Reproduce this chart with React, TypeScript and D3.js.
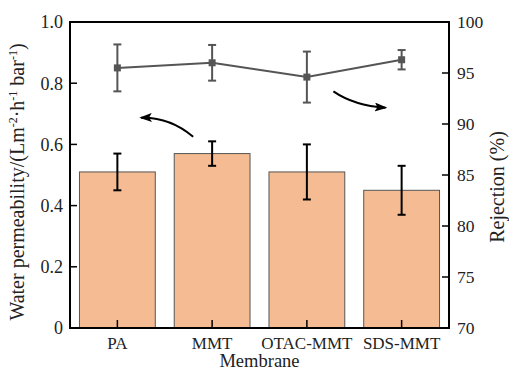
import React from "react";
import * as d3 from "d3";

const membranes = ["PA", "MMT", "OTAC-MMT", "SDS-MMT"];
const permeability = [0.51, 0.57, 0.51, 0.45];
const permeabilityErr = [0.06, 0.04, 0.09, 0.08];
const rejection = [95.5, 96.0, 94.6, 96.3];
const rejectionErr = [2.3, 1.75, 2.5, 0.95];
const leftTicks = [0, 0.2, 0.4, 0.6, 0.8, 1.0];
const rightTicks = [70, 75, 80, 85, 90, 95, 100];

const W = 509;
const H = 371;
const margin = { top: 22, right: 60, bottom: 43, left: 70 };
const font = "Liberation Serif, Tinos, Times New Roman, DejaVu Serif, serif";

export default function App() {
  const iw = W - margin.left - margin.right;
  const ih = H - margin.top - margin.bottom;

  const x = d3.scaleBand().domain(membranes).range([0, iw]).paddingInner(0.2).paddingOuter(0.1);
  const yL = d3.scaleLinear().domain([0, 1]).range([ih, 0]);
  const yR = d3.scaleLinear().domain([70, 100]).range([ih, 0]);
  const cx = (i: number) => (x(membranes[i]) ?? 0) + x.bandwidth() / 2;

  const line = d3
    .line<number>()
    .x((_, i) => cx(i))
    .y((d) => yR(d));

  // curved arrows, anchored to the data scales
  const step = x.step();
  const arrowL = d3.path();
  arrowL.moveTo(cx(1) - 0.2 * step, yL(0.625));
  arrowL.quadraticCurveTo(cx(1) - 0.45 * step, yL(0.69), cx(0) + 0.25 * step, yL(0.687));
  const arrowR = d3.path();
  arrowR.moveTo(cx(2) + 0.28 * step, yR(93.2));
  arrowR.quadraticCurveTo(cx(2) + 0.5 * step, yR(91.8), cx(3) - 0.17 * step, yR(91.6));

  const sup = (s: string) => (
    <tspan dy={-7} fontSize={12}>
      {s}
    </tspan>
  );

  return (
    <svg
      width={W}
      height={H}
      style={{ position: "absolute", left: 0, top: 0, background: "#fff", fontFamily: font }}
    >
      <defs>
        <marker id="head" viewBox="0 0 14 10" refX="12" refY="5" markerWidth="7" markerHeight="4.5" orient="auto">
          <path d="M0,0 L14,5 L0,10 L3,5 Z" fill="#000" />
        </marker>
      </defs>
      <g transform={`translate(${margin.left},${margin.top})`}>
        {membranes.map((m, i) => (
          <rect
            key={m}
            x={x(m)}
            y={yL(permeability[i])}
            width={x.bandwidth()}
            height={ih - yL(permeability[i])}
            fill="#F5BC93"
            stroke="#555"
            strokeWidth={1}
          />
        ))}
        {membranes.map((m, i) => {
          const c = cx(i);
          const t = yL(permeability[i] + permeabilityErr[i]);
          const b = yL(permeability[i] - permeabilityErr[i]);
          return (
            <g key={m} stroke="#000" strokeWidth={2}>
              <line x1={c} x2={c} y1={t} y2={b} />
              <line x1={c - 4} x2={c + 4} y1={t} y2={t} />
              <line x1={c - 4} x2={c + 4} y1={b} y2={b} />
            </g>
          );
        })}
        <path d={line(rejection) ?? ""} fill="none" stroke="#555" strokeWidth={2} />
        {membranes.map((m, i) => {
          const c = cx(i);
          const t = yR(rejection[i] + rejectionErr[i]);
          const b = yR(rejection[i] - rejectionErr[i]);
          return (
            <g key={m} stroke="#555" strokeWidth={2}>
              <line x1={c} x2={c} y1={t} y2={b} />
              <line x1={c - 4} x2={c + 4} y1={t} y2={t} />
              <line x1={c - 4} x2={c + 4} y1={b} y2={b} />
              <rect x={c - 3.5} y={yR(rejection[i]) - 3.5} width={7} height={7} fill="#555" stroke="none" />
            </g>
          );
        })}
        <path d={arrowL.toString()} fill="none" stroke="#000" strokeWidth={2} markerEnd="url(#head)" />
        <path d={arrowR.toString()} fill="none" stroke="#000" strokeWidth={2} markerEnd="url(#head)" />

        {/* frame */}
        <rect x={0} y={0} width={iw} height={ih} fill="none" stroke="#000" strokeWidth={2} />

        {/* bottom ticks (inward) */}
        {membranes.map((m, i) => (
          <g key={m}>
            <line x1={cx(i)} x2={cx(i)} y1={ih} y2={ih - 8} stroke="#000" strokeWidth={1.5} />
            <text x={cx(i)} y={ih + 21} textAnchor="middle" fontSize={17} fill="#222">
              {m}
            </text>
          </g>
        ))}

        {/* left axis, ticks inward */}
        {leftTicks.map((t) => (
          <g key={t} transform={`translate(0,${yL(t)})`}>
            <line x1={0} x2={7} stroke="#000" strokeWidth={1.5} />
            <text x={-7} dy="0.35em" textAnchor="end" fontSize={18} fill="#222">
              {t === 0 ? "0" : d3.format(".1f")(t)}
            </text>
          </g>
        ))}

        {/* right axis, ticks inward */}
        {rightTicks.map((t) => (
          <g key={t} transform={`translate(${iw},${yR(t)})`}>
            <line x1={-7} x2={0} stroke="#000" strokeWidth={1.5} />
            <text x={8} dy="0.35em" textAnchor="start" fontSize={17.5} fill="#222">
              {t}
            </text>
          </g>
        ))}

        <text x={iw / 2} y={ih + 39} textAnchor="middle" fontSize={18.5} fill="#222">
          Membrane
        </text>
        <text
          transform={`translate(${-46},${ih / 2 + 7}) rotate(-90)`}
          textAnchor="middle"
          fontSize={20}
          fill="#222"
        >
          Water permeability/(Lm{sup("-2")}
          <tspan dy={7}>·h</tspan>
          {sup("-1")}
          <tspan dy={7}> bar</tspan>
          {sup("-1")}
          <tspan dy={7}>)</tspan>
        </text>
        <text
          transform={`translate(${iw + 55},${ih / 2 + 12}) rotate(-90)`}
          textAnchor="middle"
          fontSize={20}
          fill="#222"
        >
          Rejection (%)
        </text>
      </g>
    </svg>
  );
}
